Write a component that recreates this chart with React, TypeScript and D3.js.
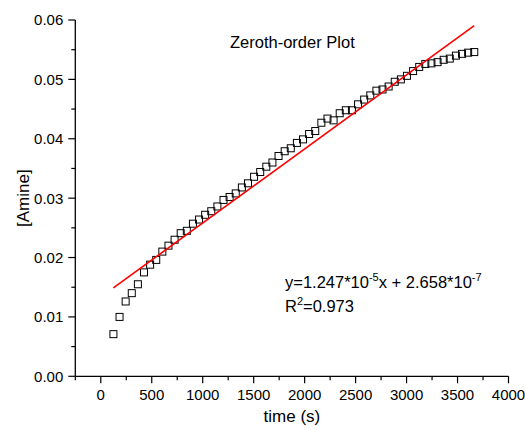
import React from "react";
import * as d3 from "d3";

const times: number[] = [
  124, 184, 244, 304, 364, 424, 484, 544, 604, 664,
  724, 784, 844, 904, 964, 1024, 1084, 1144, 1204, 1264,
  1324, 1384, 1444, 1504, 1564, 1624, 1684, 1744, 1804, 1864,
  1924, 1984, 2044, 2104, 2164, 2224, 2284, 2344, 2404, 2464,
  2524, 2584, 2644, 2704, 2764, 2824, 2884, 2944, 3004, 3064,
  3124, 3184, 3244, 3304, 3364, 3424, 3484, 3544, 3604, 3664,
];

const amine: number[] = [
  0.0071, 0.0100, 0.0126, 0.0140, 0.0155, 0.0175, 0.0188, 0.0196, 0.0210, 0.0220,
  0.0230, 0.0241, 0.0245, 0.0257, 0.0264, 0.0272, 0.0278, 0.0286, 0.0297, 0.0302,
  0.0308, 0.0318, 0.0325, 0.0336, 0.0344, 0.0353, 0.0360, 0.0371, 0.0379, 0.0384,
  0.0393, 0.0399, 0.0408, 0.0413, 0.0427, 0.0434, 0.0431, 0.0443, 0.0448, 0.0448,
  0.0458, 0.0466, 0.0473, 0.0481, 0.0483, 0.0488, 0.0496, 0.0500, 0.0506, 0.0514,
  0.0521, 0.0526, 0.0527, 0.0529, 0.0533, 0.0535, 0.0540, 0.0543, 0.0545, 0.0546,
];

const fitSlope = 1.247e-5;
const fitIntercept = 0.01335;

const xMajorTicks: number[] = [0, 500, 1000, 1500, 2000, 2500, 3000, 3500, 4000];
const xMinorTicks: number[] = [-250, 250, 750, 1250, 1750, 2250, 2750, 3250, 3750];
const yMajorTicks: number[] = [0, 0.01, 0.02, 0.03, 0.04, 0.05, 0.06];
const yMinorTicks: number[] = [0.005, 0.015, 0.025, 0.035, 0.045, 0.055];

const titleText = "Zeroth-order Plot";
const xLabel = "time (s)";
const yLabel = "[Amine]";

const FONT = "Arial, 'Liberation Sans', Helvetica, sans-serif";

export default function App() {
  const W = 525;
  const H = 430;
  const x = d3.scaleLinear().domain([-250, 4000]).range([75.3, 508.5]);
  const y = d3.scaleLinear().domain([0, 0.06]).range([376.3, 20]);

  const x0 = x(-250);
  const y0 = y(0);
  const sq = 7;

  const fitLine = d3
    .line<number>()
    .x((t) => x(t))
    .y((t) => y(fitIntercept + fitSlope * t));
  const fitT = [times[0], times[times.length - 1]];

  return (
    <svg
      width={W}
      height={H}
      style={{ position: "absolute", left: 0, top: 0, background: "#fff" }}
      fontFamily={FONT}
    >
      <rect x={0} y={0} width={W} height={H} fill="#fff" />
      {times.map((t, i) => (
        <rect
          key={i}
          x={x(t) - sq / 2}
          y={y(amine[i]) - sq / 2}
          width={sq}
          height={sq}
          fill="none"
          stroke="#000"
          strokeWidth={1}
        />
      ))}
      <path d={fitLine(fitT) || ""} fill="none" stroke="#ff0000" strokeWidth={1.6} />

      <line x1={x0} x2={x(4000)} y1={y0} y2={y0} stroke="#000" strokeWidth={1.3} />
      <line x1={x0} x2={x0} y1={y0} y2={y(0.06)} stroke="#000" strokeWidth={1.3} />
      {xMajorTicks.map((t) => (
        <g key={"xM" + t}>
          <line x1={x(t)} x2={x(t)} y1={y0} y2={y0 + 7} stroke="#000" strokeWidth={1.2} />
          <text x={x(t)} y={400} textAnchor="middle" fontSize={15}>
            {String(t)}
          </text>
        </g>
      ))}
      {xMinorTicks.map((t) => (
        <line key={"xm" + t} x1={x(t)} x2={x(t)} y1={y0} y2={y0 + 4} stroke="#000" strokeWidth={1.2} />
      ))}
      {yMajorTicks.map((v) => (
        <g key={"yM" + v}>
          <line x1={x0} x2={x0 - 7} y1={y(v)} y2={y(v)} stroke="#000" strokeWidth={1.2} />
          <text x={x0 - 12} y={y(v)} dy="0.36em" textAnchor="end" fontSize={15}>
            {v.toFixed(2)}
          </text>
        </g>
      ))}
      {yMinorTicks.map((v) => (
        <line key={"ym" + v} x1={x0} x2={x0 - 4} y1={y(v)} y2={y(v)} stroke="#000" strokeWidth={1.2} />
      ))}

      <text x={(x0 + x(4000)) / 2} y={422} textAnchor="middle" fontSize={17}>
        {xLabel}
      </text>
      <text
        transform={`translate(29, ${(y(0) + y(0.06)) / 2}) rotate(-90)`}
        textAnchor="middle"
        fontSize={17}
      >
        {yLabel}
      </text>
      <text x={230} y={48} fontSize={16.5}>
        {titleText}
      </text>
      <text x={285} y={288} fontSize={16.5}>
        y=1.247*10
        <tspan dy={-7} fontSize={11}>-5</tspan>
        <tspan dy={7}>x + 2.658*10</tspan>
        <tspan dy={-7} fontSize={11}>-7</tspan>
      </text>
      <text x={285} y={312} fontSize={16.5}>
        R<tspan dy={-7} fontSize={11}>2</tspan>
        <tspan dy={7}>=0.973</tspan>
      </text>
    </svg>
  );
}
